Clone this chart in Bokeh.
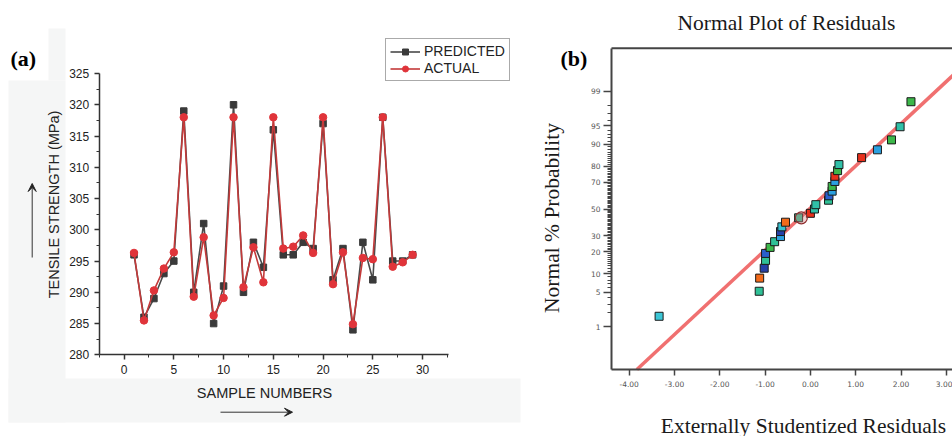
from math import pi
from statistics import NormalDist

from bokeh.plotting import figure
from bokeh.layouts import row
from bokeh.models import (SingleIntervalTicker, FixedTicker, PrintfTickFormatter, LinearAxis,
                          Label, Arrow, VeeHead, Legend, LegendItem, Range1d)
from bokeh.embed import file_html
from bokeh.resources import INLINE

# ---------------- data: panel (a) ----------------
sample_no = list(range(1, 30))
predicted = [296, 286, 289, 293, 295, 319, 290, 301, 285, 291,
             320, 290, 298, 294, 316, 296, 296, 298, 297, 317,
             292, 297, 284, 298, 292, 318, 295, 295, 296]
actual = [296.3, 285.5, 290.3, 293.8, 296.4, 318, 289.3, 298.8, 286.3, 289.1,
          318, 290.8, 297.2, 291.6, 318, 297.0, 297.3, 299.1, 296.3, 318,
          291.3, 296.4, 284.9, 295.5, 295.3, 318, 294.1, 294.8, 296]
a_yticks_major = [280, 285, 290, 295, 300, 305, 310, 315, 320, 325]

# ---------------- data: panel (b) ----------------
residuals = [-3.34, -1.13, -1.12, -1.02, -0.99, -0.99, -0.89, -0.79, -0.66, -0.66,
             -0.63, -0.55, -0.26, 0.00, 0.09, 0.12, 0.40, 0.41, 0.48, 0.48,
             0.54, 0.54, 0.60, 0.63, 1.13, 1.48, 1.79, 1.98, 2.22]
probability = [1.7, 5.2, 8.6, 12.1, 15.5, 19.0, 22.4, 25.9, 29.3, 32.8,
               36.2, 39.7, 43.1, 46.6, 50.0, 53.4, 56.9, 60.3, 63.8, 67.2,
               70.7, 74.1, 77.6, 81.0, 84.5, 87.9, 91.4, 94.8, 98.3]
point_colors = ["#3cc6d6", "#2fc096", "#f26a1a", "#2541a8", "#2fc096", "#2a5fcc", "#3cb84a",
                "#2fc096", "#2ba0e0", "#2541a8", "#35c0d0", "#f26a1a", "#2fc096", "#e8301c",
                "#30c0a8", "#30c0a8", "#2fc096", "#2a5fcc", "#2ba0e0", "#3cb84a", "#2ba0e0",
                "#e8301c", "#3cb84a", "#30c0a8", "#e8301c", "#2ba0e0", "#3cb84a", "#30c0a8",
                "#3cb84a"]
highlight_resid = [-0.20]
highlight_prob = [43.1]
fit_resid = [-3.83, 3.16]
fit_prob = [0.076, 99.6]
prob_major = [1, 5, 10, 20, 30, 50, 70, 80, 90, 95, 99]
prob_minor = [p for p in range(1, 100) if p not in prob_major]
b_xticks = [-4, -3, -2, -1, 0, 1, 2, 3]

nd = NormalDist()
def zq(p):
    return nd.inv_cdf(p / 100.0)

H = 436
SERIF = "Liberation Serif"
SANS = "Liberation Sans"

def bare_figure(w, x_range, y_range):
    f = figure(width=w, height=H, output_backend="svg", toolbar_location=None,
               x_range=x_range, y_range=y_range,
               min_border_left=0, min_border_right=0, min_border_top=0, min_border_bottom=0,
               x_axis_type=None, y_axis_type=None)
    f.title.visible = False
    f.outline_line_color = None
    f.xgrid.visible = False
    f.ygrid.visible = False
    f.background_fill_color = "white"
    f.border_fill_color = "white"
    return f

# ================= panel (a) =================
W1 = 530
AX_LEFT, AX_BOTTOM = 98.7, 354.3        # page pixels of the axis corner
XS1, YS1 = 9.95, 6.25                   # pixels per unit
X0, Y0 = -2.5, 280.0

def ax1(px):
    return X0 + (px - AX_LEFT) / XS1
def ay1(py):
    return Y0 + (AX_BOTTOM - py) / YS1

p1 = bare_figure(W1, Range1d(ax1(0), ax1(W1)), Range1d(ay1(H), ay1(0)))

# faint grey mat behind the left panel (page pixels)
PANEL_GREY = "#f5f6f6"
p1.quad(left=[ax1(8), ax1(48), ax1(8)], right=[ax1(65), ax1(65), ax1(520)],
        top=[ay1(80), ay1(28), ay1(378)], bottom=[ay1(422), ay1(80), ay1(422)],
        fill_color=PANEL_GREY, line_color=None, level="underlay")

xa = LinearAxis(ticker=SingleIntervalTicker(interval=5, num_minor_ticks=2),
                bounds=(-2.5, 32.6), fixed_location=280)
ya = LinearAxis(ticker=FixedTicker(ticks=a_yticks_major,
                                   minor_ticks=[v + 2.5 for v in a_yticks_major[:-1]]),
                bounds=(280, 325), fixed_location=-2.5)
for a in (xa, ya):
    a.axis_line_color = "#333333"
    a.axis_line_width = 1.5
    a.major_tick_line_color = "#333333"
    a.minor_tick_line_color = "#333333"
    a.major_tick_line_width = 1.5
    a.major_tick_in = 0
    a.major_tick_out = 5
    a.minor_tick_in = 0
    a.minor_tick_out = 3
    a.major_label_text_font = SANS
    a.major_label_text_font_size = "12px"
    a.major_label_text_color = "#222222"
    a.major_label_standoff = 5
p1.add_layout(xa, "below")
p1.add_layout(ya, "left")

lp = p1.line(sample_no, predicted, line_color="#4a4a4a", line_width=1.6)
sp = p1.scatter(sample_no, predicted, marker="square", size=6.5, fill_color="#3a3a3a", line_color="#3a3a3a")
la = p1.line(sample_no, actual, line_color="#c43a3a", line_width=1.6)
sa = p1.scatter(sample_no, actual, marker="circle", size=7.5, fill_color="#e0343a", line_color="#e0343a")

LEG_H = 39
leg = Legend(items=[LegendItem(label="PREDICTED", renderers=[lp, sp]),
                    LegendItem(label="ACTUAL", renderers=[la, sa])],
             location=(385, H - 42 - LEG_H))
leg.label_text_font = SANS
leg.label_text_font_size = "14px"
leg.label_text_color = "#222222"
leg.glyph_width = 30
leg.glyph_height = 15
leg.label_height = 15
leg.label_standoff = 4
leg.spacing = 1
leg.padding = 4
leg.margin = 0
leg.border_line_color = "#555555"
leg.border_line_width = 1
leg.background_fill_color = "white"
p1.add_layout(leg)

p1.add_layout(Label(x=ax1(10), y=ay1(58), text="(a)", text_font=SERIF, text_font_style="bold",
                    text_font_size="22px", text_align="left", text_baseline="middle", text_color="black"))
p1.add_layout(Label(x=ax1(53), y=ay1(204), text="TENSILE STRENGTH (MPa)", angle=pi / 2,
                    text_font=SANS, text_font_size="14.5px", text_align="center",
                    text_baseline="middle", text_color="#222222"))
p1.add_layout(Label(x=ax1(264), y=ay1(392), text="SAMPLE NUMBERS",
                    text_font=SANS, text_font_size="14.5px", text_align="center",
                    text_baseline="middle", text_color="#222222"))
p1.add_layout(Arrow(x_start=ax1(31.7), y_start=ay1(257), x_end=ax1(31.7), y_end=ay1(183),
                    line_color="#333333", line_width=1,
                    end=VeeHead(size=8, fill_color="#222222", line_color="#222222")))
p1.add_layout(Arrow(x_start=ax1(220), y_start=ay1(411.7), x_end=ax1(292), y_end=ay1(411.7),
                    line_color="#333333", line_width=1,
                    end=VeeHead(size=8, fill_color="#222222", line_color="#222222")))

# ================= panel (b) =================
OFF2 = W1                              # page x of panel (b) left edge
W2 = 952 - W1
BX_LEFT, BZ_MID = 611.0, 208.5         # page pixels: y axis line, 50 % line
XS2, ZS2 = 45.3, 50.6
XB0 = -4.0 - (628.7 - BX_LEFT) / XS2
Z_TOP = (BZ_MID - 47.7) / ZS2
Z_BOT = (BZ_MID - 369.0) / ZS2

def bx(px):
    return XB0 + (px - BX_LEFT) / XS2
def bz(py):
    return (BZ_MID - py) / ZS2

p2 = bare_figure(W2, Range1d(bx(OFF2), bx(OFF2 + W2)), Range1d(bz(H), bz(0)))

major_z = [zq(p) for p in prob_major]
minor_z = [zq(p) for p in prob_minor]
xb = LinearAxis(ticker=FixedTicker(ticks=b_xticks), formatter=PrintfTickFormatter(format="%.2f"),
                bounds=(XB0, bx(OFF2 + W2) + 1), fixed_location=Z_BOT)
yb = LinearAxis(ticker=FixedTicker(ticks=major_z, minor_ticks=minor_z),
                major_label_overrides={z: str(p) for z, p in zip(major_z, prob_major)},
                bounds=(Z_BOT, Z_TOP), fixed_location=XB0)
for a in (xb, yb):
    a.axis_line_color = "#444444"
    a.axis_line_width = 2
    a.major_tick_line_color = "#444444"
    a.minor_tick_line_color = "#444444"
    a.major_tick_line_width = 1.5
    a.minor_tick_line_width = 1
    a.major_tick_in = 0
    a.minor_tick_in = 0
    a.major_label_text_font = "DejaVu Sans"
    a.major_label_text_font_size = "7.5px"
    a.major_label_text_color = "#555555"
xb.major_tick_out = 6
xb.major_label_standoff = 5
yb.major_tick_out = 8
yb.minor_tick_out = 4
yb.major_label_standoff = 3
p2.add_layout(xb, "below")
p2.add_layout(yb, "left")

# top frame line
p2.line([XB0, bx(OFF2 + W2) + 1], [Z_TOP, Z_TOP], line_color="#444444", line_width=2)

p2.line(fit_resid, [zq(p) for p in fit_prob], line_color="#f07070", line_width=3.5)
p2.scatter(residuals, [zq(p) for p in probability], marker="square", size=8,
           fill_color=point_colors, line_color="#1a1a1a", line_width=1)
p2.scatter(highlight_resid, [zq(p) for p in highlight_prob], marker="circle", size=12,
           fill_color="#e08080", fill_alpha=0.35, line_color="#903030", line_width=1.2)

p2.add_layout(Label(x=bx(786), y=bz(22), text="Normal Plot of Residuals", text_font=SERIF,
                    text_font_size="21.5px", text_align="center", text_baseline="middle",
                    text_color="#1a1a1a"))
p2.add_layout(Label(x=bx(560), y=bz(58), text="(b)", text_font=SERIF, text_font_style="bold",
                    text_font_size="22px", text_align="left", text_baseline="middle", text_color="black"))
p2.add_layout(Label(x=bx(551), y=bz(217.5), text="Normal % Probability", angle=pi / 2,
                    text_font=SERIF, text_font_size="21.5px", text_align="center",
                    text_baseline="middle", text_color="#1a1a1a"))
p2.add_layout(Label(x=bx(803), y=bz(425), text="Externally Studentized Residuals",
                    text_font=SERIF, text_font_size="21.5px", text_align="center",
                    text_baseline="middle", text_color="#1a1a1a"))

layout = row(p1, p2, spacing=0)
open("out.html", "w").write(file_html(layout, INLINE))
